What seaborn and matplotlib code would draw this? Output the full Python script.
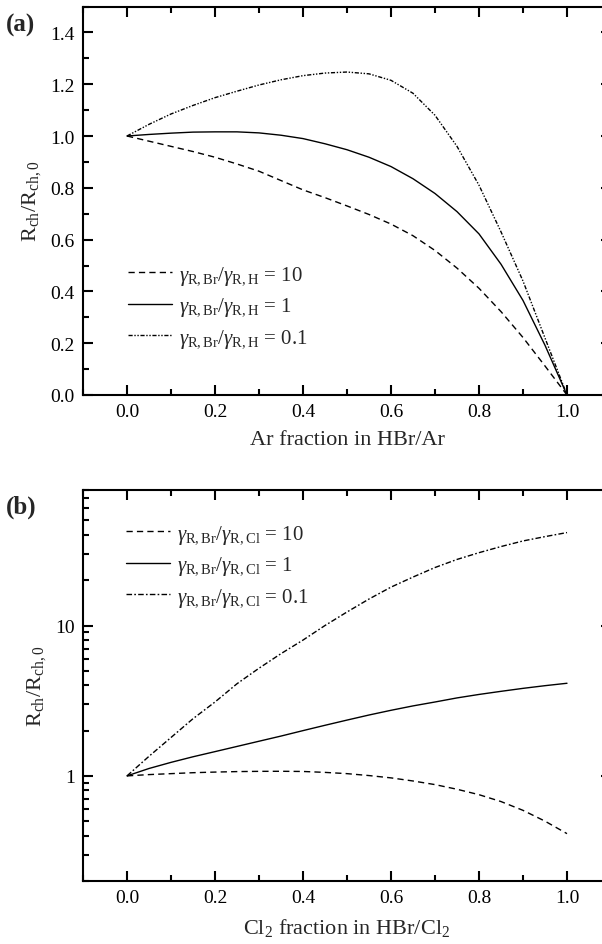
import numpy as np
import pandas as pd
import matplotlib
matplotlib.use("Agg")
import matplotlib.pyplot as plt
import seaborn as sns
from matplotlib.ticker import MultipleLocator, LogLocator, NullFormatter, FixedLocator

# ---------------- data ----------------
x_a = [0.0, 0.05, 0.1, 0.15, 0.2, 0.25, 0.3, 0.35, 0.4, 0.45, 0.5,
       0.55, 0.6, 0.65, 0.7, 0.75, 0.8, 0.85, 0.9, 0.95, 1.0]
a_ratio10 = [1.0, 0.98, 0.96, 0.94, 0.918, 0.892, 0.864, 0.828, 0.792, 0.762, 0.73,
             0.697, 0.66, 0.615, 0.558, 0.49, 0.412, 0.322, 0.222, 0.112, 0.0]
a_ratio1 = [1.0, 1.006, 1.011, 1.015, 1.016, 1.016, 1.012, 1.003, 0.99, 0.97, 0.947,
            0.918, 0.882, 0.835, 0.778, 0.708, 0.622, 0.505, 0.365, 0.192, 0.0]
a_ratio01 = [1.0, 1.045, 1.085, 1.118, 1.148, 1.173, 1.197, 1.217, 1.233, 1.243, 1.247,
             1.24, 1.215, 1.165, 1.08, 0.96, 0.81, 0.63, 0.44, 0.22, 0.0]

x_b = [0.0, 0.05, 0.1, 0.15, 0.2, 0.25, 0.3, 0.35, 0.4, 0.45, 0.5,
       0.55, 0.6, 0.65, 0.7, 0.75, 0.8, 0.85, 0.9, 0.95, 1.0]
b_ratio10 = [1.0, 1.02, 1.035, 1.05, 1.06, 1.068, 1.072, 1.073, 1.07, 1.055, 1.035,
             1.005, 0.97, 0.925, 0.875, 0.815, 0.75, 0.675, 0.59, 0.50, 0.413]
b_ratio1 = [1.0, 1.12, 1.23, 1.34, 1.45, 1.57, 1.70, 1.84, 2.0, 2.17, 2.35,
            2.54, 2.73, 2.92, 3.1, 3.3, 3.48, 3.65, 3.82, 3.98, 4.13]
b_ratio01 = [1.0, 1.35, 1.8, 2.4, 3.1, 4.1, 5.2, 6.5, 8.0, 10.0, 12.3,
             15.0, 18.0, 21.0, 24.3, 27.5, 30.5, 33.5, 36.5, 39.0, 41.5]

labels_a = [r'$\gamma_{\mathrm{R,Br}}/\gamma_{\mathrm{R,H}}$ = 10',
            r'$\gamma_{\mathrm{R,Br}}/\gamma_{\mathrm{R,H}}$ = 1',
            r'$\gamma_{\mathrm{R,Br}}/\gamma_{\mathrm{R,H}}$ = 0.1']
labels_b = [r'$\gamma_{\mathrm{R,Br}}/\gamma_{\mathrm{R,Cl}}$ = 10',
            r'$\gamma_{\mathrm{R,Br}}/\gamma_{\mathrm{R,Cl}}$ = 1',
            r'$\gamma_{\mathrm{R,Br}}/\gamma_{\mathrm{R,Cl}}$ = 0.1']
xticks = [0.0, 0.2, 0.4, 0.6, 0.8, 1.0]
yticks_a = [0.0, 0.2, 0.4, 0.6, 0.8, 1.0, 1.2, 1.4]

# ---------------- style ----------------
sns.set_style("ticks")
plt.rcParams['font.family'] = ['Liberation Serif', 'DejaVu Serif']
plt.rcParams['mathtext.fontset'] = 'custom'
plt.rcParams['mathtext.rm'] = 'Liberation Serif'
plt.rcParams['mathtext.it'] = 'Liberation Serif:italic'
plt.rcParams['mathtext.bf'] = 'Liberation Serif:bold'
plt.rcParams['axes.linewidth'] = 1.5
plt.rcParams['axes.edgecolor'] = 'black'

fig = plt.figure(figsize=(6.02, 9.45), dpi=100)
axA = fig.add_axes([83/602, 1-396/945, 528/602, 388.5/945])
axB = fig.add_axes([83/602, 1-882/945, 528/602, 391.3/945])

ls_dash = (0, (4.5, 3.0))
ls_dd = (0, (3.0, 1.2, 1.0, 1.2, 1.0, 1.2))
ls_dashdot = (0, (4.0, 1.6, 1.2, 1.6))

def draw(ax, x, ys, styles, labels):
    for y, st, lab in zip(ys, styles, labels):
        df = pd.DataFrame({'x': x, 'y': y})
        sns.lineplot(data=df, x='x', y='y', ax=ax, color='black', lw=1.0,
                     linestyle=st, label=lab, legend=False)

draw(axA, x_a, [a_ratio10, a_ratio1, a_ratio01], [ls_dash, '-', ls_dd], labels_a)
draw(axB, x_b, [b_ratio10, b_ratio1, b_ratio01], [ls_dash, '-', ls_dashdot], labels_b)

def style_axes(ax):
    ax.set_xlim(-0.1, 1.1)
    ax.xaxis.set_major_locator(FixedLocator(xticks))
    ax.xaxis.set_minor_locator(MultipleLocator(0.1))
    ax.set_xticklabels([f'{t:.1f}' for t in xticks])
    ax.tick_params(which='both', direction='in', top=True, right=True,
                   width=1.5, colors='black', labelsize=14, pad=6)
    ax.tick_params(which='major', length=7)
    ax.tick_params(which='minor', length=4)
    for s in ax.spines.values():
        s.set_visible(True)
        s.set_linewidth(1.5)

style_axes(axA)
axA.set_ylim(0, 1.5)
axA.yaxis.set_major_locator(FixedLocator(yticks_a))
axA.yaxis.set_minor_locator(MultipleLocator(0.1))
axA.set_yticklabels([f'{t:.1f}' for t in yticks_a])
axA.set_xlabel('Ar fraction in HBr/Ar', fontsize=16, labelpad=7)
axA.set_ylabel(r'$\mathrm{R_{ch}/R_{ch,0}}$', fontsize=16, labelpad=5)

style_axes(axB)
axB.set_yscale('log')
axB.set_ylim(0.2, 80)
axB.yaxis.set_major_locator(FixedLocator([1, 10]))
axB.set_yticklabels(['1', '10'])
axB.yaxis.set_minor_locator(LogLocator(base=10, subs=np.arange(2, 10)))
axB.yaxis.set_minor_formatter(NullFormatter())
axB.set_xlabel(r'Cl$_2$ fraction in HBr/Cl$_2$', fontsize=16, labelpad=7)
axB.set_ylabel(r'$\mathrm{R_{ch}/R_{ch,0}}$', fontsize=16, labelpad=5)

for ax, anchor in ((axA, (0.085, 0.2265)), (axB, (0.081, 0.805))):
    h, l = ax.get_legend_handles_labels()
    ax.legend(h, l, loc='center left', bbox_to_anchor=anchor, frameon=False,
              fontsize=15, handlelength=2.1, handletextpad=0.35,
              borderpad=0, borderaxespad=0, labelspacing=0.45)

fig.text(6/602, 1-25/945, '(a)', fontsize=18, fontweight='bold', va='center', ha='left')
fig.text(6/602, 1-507/945, '(b)', fontsize=18, fontweight='bold', va='center', ha='left')

fig.savefig('out.png', dpi=100)
